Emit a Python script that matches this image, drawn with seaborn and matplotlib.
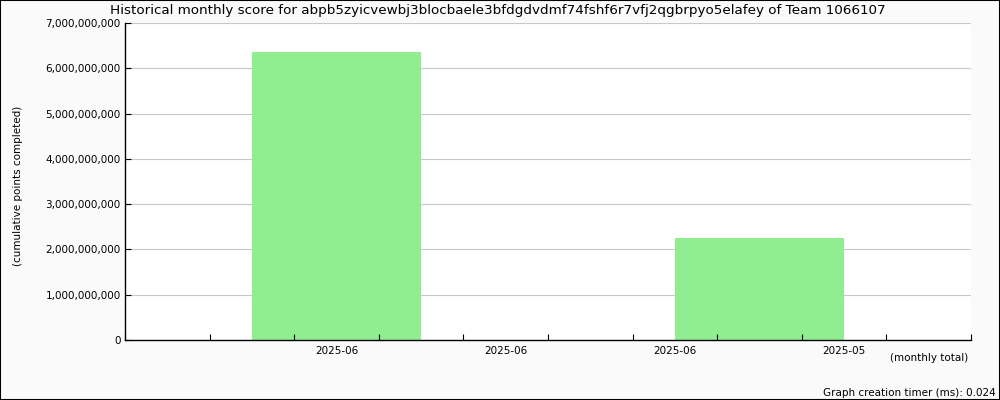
import matplotlib
matplotlib.use("Agg")
import matplotlib.pyplot as plt
import matplotlib.ticker as mticker
import seaborn as sns
import pandas as pd

# Data
tick_labels = ["2025-06", "2025-06", "2025-06", "2025-05"]
label_slots = [2.5, 4.5, 6.5, 8.5]
bar_slots = [2.5, 7.5]
bar_values = [6353000000, 2252000000]
y_gridlines = [1e9, 2e9, 3e9, 4e9, 5e9, 6e9, 7e9]

sns.set_style("white")
plt.rcParams["font.family"] = ["DejaVu Sans"]
plt.rcParams["text.color"] = "black"
plt.rcParams["axes.labelcolor"] = "black"
plt.rcParams["xtick.color"] = "black"
plt.rcParams["ytick.color"] = "black"

fig = plt.figure(figsize=(10, 4), dpi=100, facecolor="#fafafa")
ax = fig.add_axes([0.125, 0.15, 0.846, 0.7925])
ax.set_facecolor("white")

df = pd.DataFrame({"slot": bar_slots, "score": bar_values})
sns.barplot(data=df, x="slot", y="score", native_scale=True, width=0.4,
            color="#90ee90", saturation=1, linewidth=0, ax=ax, zorder=2)

ax.set_xlim(0, 10)
ax.set_ylim(0, 7e9)
ax.yaxis.set_major_locator(mticker.MultipleLocator(1e9))
ax.yaxis.set_major_formatter(mticker.FuncFormatter(lambda v, p: f"{int(v):,}"))
ax.grid(False)
for g in y_gridlines:
    ax.axhline(g, color="#c8c8c8", linewidth=0.8, zorder=0.5)
ax.set_axisbelow(False)

ax.set_xticks(range(0, 11))
ax.set_xticklabels([])
ax.set_xticks(label_slots, minor=True)
ax.set_xticklabels(tick_labels, minor=True)
ax.tick_params(axis="x", which="major", bottom=True, direction="in", length=4, width=0.8, color="black")
ax.tick_params(axis="x", which="minor", bottom=True, length=0, labelsize=7.5, pad=4, labelcolor="black")
ax.tick_params(axis="y", left=True, direction="in", length=4, width=0.8, color="black",
               labelsize=7.5, pad=3, labelcolor="black")

for s in ["top", "right"]:
    ax.spines[s].set_visible(False)
for s in ["left", "bottom"]:
    ax.spines[s].set_color("black")
    ax.spines[s].set_linewidth(1)
    ax.spines[s].set_zorder(6)

ax.set_xlabel("")
ax.set_ylabel("")
fig.text(0.018, 0.535, "(cumulative points completed)", rotation=90, ha="center", va="center",
         fontsize=7.5, color="black")

fig.text(0.498, 0.973, "Historical monthly score for abpb5zyicvewbj3blocbaele3bfdgdvdmf74fshf6r7vfj2qgbrpyo5elafey of Team 1066107",
         ha="center", va="center", fontsize=9.7, color="black")
fig.text(0.968, 0.105, "(monthly total)", ha="right", va="center", fontsize=7.5, color="black")
fig.text(0.996, 0.017, "Graph creation timer (ms): 0.024", ha="right", va="center", fontsize=7.5, color="black")

border = plt.Rectangle((0, 0), 1, 1, transform=fig.transFigure, fill=False,
                       edgecolor="black", linewidth=1.5)
fig.patches.append(border)

fig.savefig("out.png", dpi=100, facecolor=fig.get_facecolor())
